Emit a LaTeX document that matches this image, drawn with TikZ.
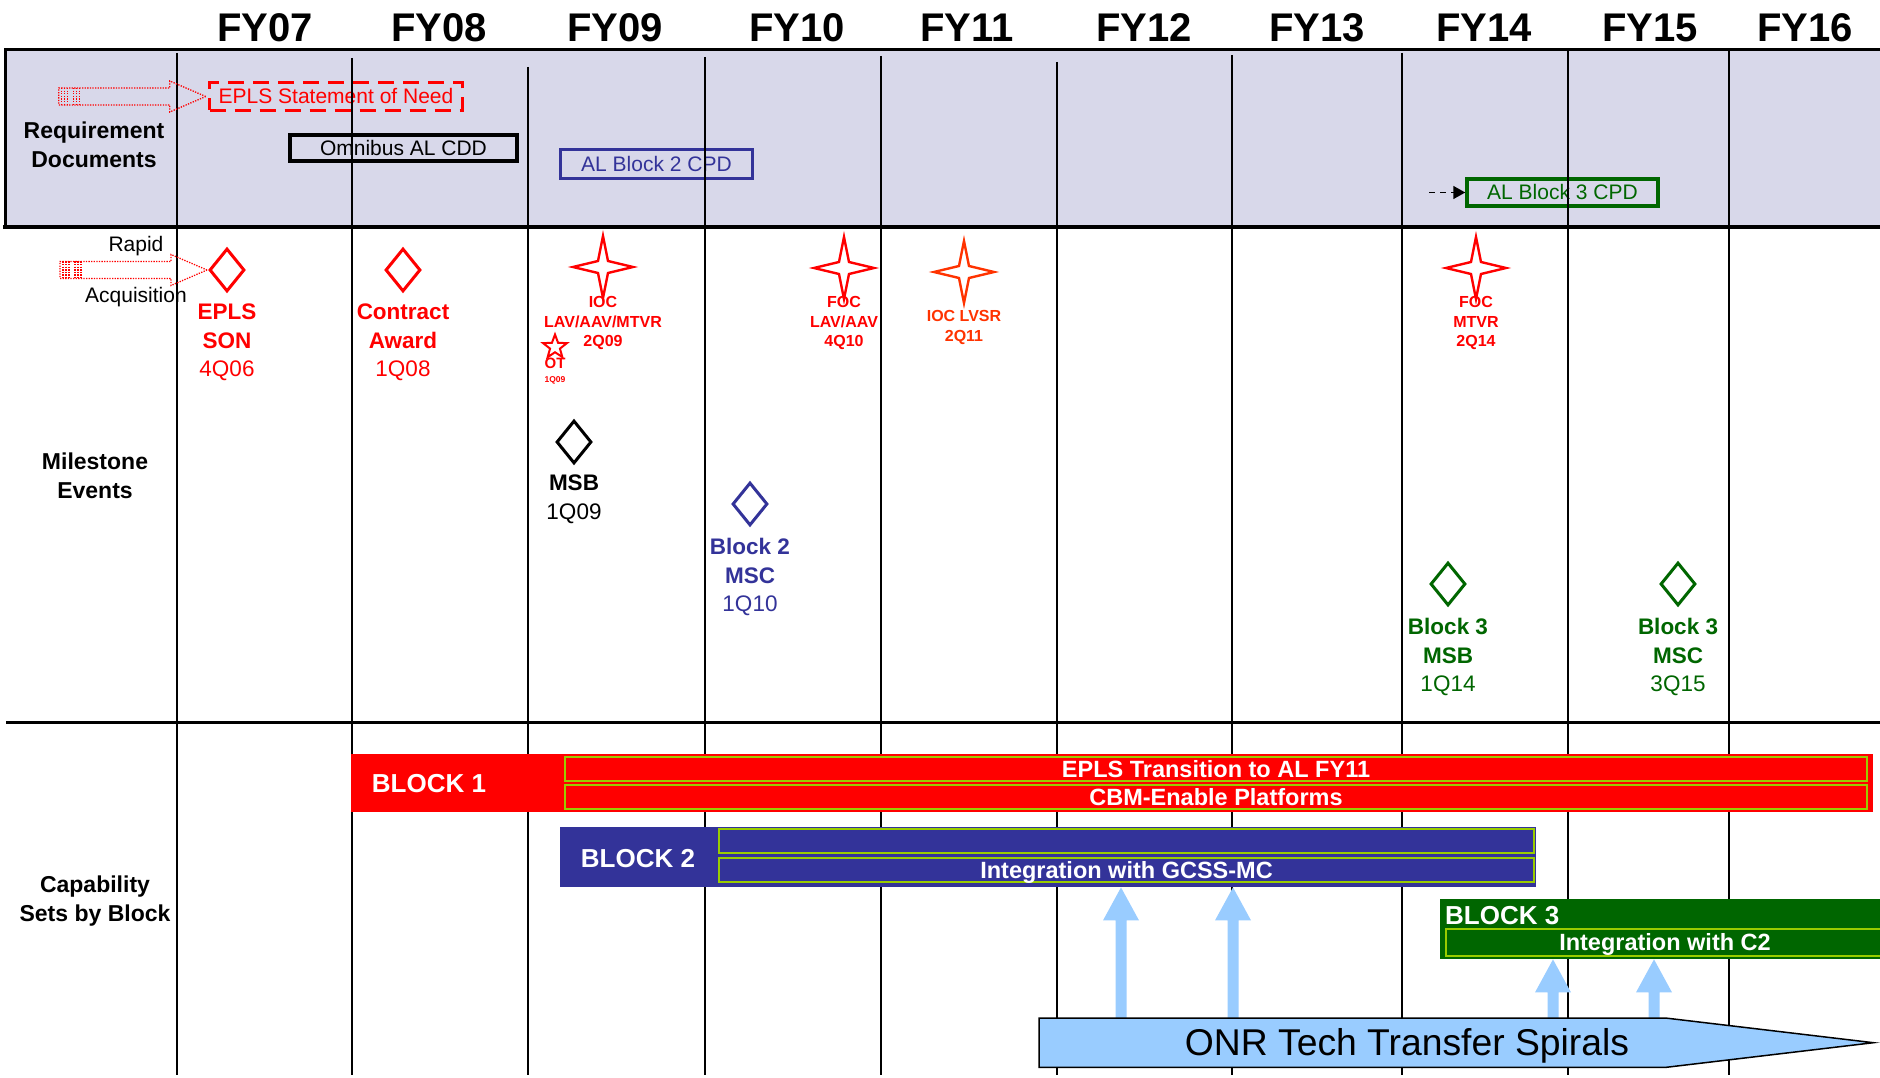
\documentclass[tikz,border=0pt]{standalone}
\usepackage{fontspec}
\setmainfont{Liberation Sans}
\usetikzlibrary{arrows.meta,calc,shapes.geometric}

\definecolor{reqfill}{RGB}{216,216,234}
\definecolor{msred}{RGB}{255,0,0}
\definecolor{lvsrred}{RGB}{255,51,0}
\definecolor{blocktwo}{RGB}{51,51,153}
\definecolor{blockthree}{RGB}{0,102,0}
\definecolor{spiralblue}{RGB}{153,204,255}
\definecolor{subedge}{RGB}{153,204,0}

\newcommand\setfs[2]{\fontsize{#1}{#2}\selectfont}

% four-point milestone star around a named centre
\newcommand\fourstar[3]{% name, centre, colour
  \coordinate (#1) at #2;
  \draw[#3, line width=2.4pt, fill=white, line join=miter]
    (#1) ++(0,-31) -- ++(5,25) -- ++(25,6) -- ++(-25,6) -- ++(-5,25)
    -- ++(-5,-25) -- ++(-25,-6) -- ++(25,-6) -- cycle;}

% dotted outline block arrow ending at a named tip
\newcommand\rapidarrow[1]{%
  \draw[msred, line width=1.3pt, dash pattern=on 1.3pt off 1.3pt]
    (#1) -- ++(-36,-15.5) -- ++(0,7) -- ++(-111,0) -- ++(0,17) -- ++(111,0) -- ++(0,7) -- cycle;
  \foreach \dx in {-144,-141,-138,-132,-129,-126}
    \draw[msred, line width=1.3pt, dash pattern=on 1.3pt off 1.3pt] ($(#1)+(\dx,-8.5)$) -- ++(0,17);}

% light blue block arrow from a foot point up to a tip point
\newcommand\spiralarrow[2]{%
  \fill[spiralblue] ($(#1)+(-5.5,0)$) -- ($(#2)+(-5.5,33)$) -- ($(#2)+(-18,33)$)
    -- (#2) -- ($(#2)+(18,33)$) -- ($(#2)+(5.5,33)$) -- ($(#1)+(5.5,0)$) -- cycle;}

\begin{document}
\begin{tikzpicture}[x=1pt,y=-1pt,
  fyhead/.style={font=\setfs{40}{48}\bfseries, anchor=base, inner sep=0pt},
  rowlabel/.style={font=\setfs{23}{28.5}\bfseries, align=center, anchor=north, inner sep=0pt},
  docbox/.style={font=\setfs{21}{25}, inner sep=0pt, text height=15pt, text depth=0pt},
  gridline/.style={line width=2.8pt},
  msmark/.style={diamond, draw, line width=3pt, fill=white, minimum width=35pt, minimum height=43pt, inner sep=0pt},
  mslabel/.style={font=\setfs{22.5}{28.5}, align=center, anchor=north, inner sep=0pt},
  starlabel/.style={font=\setfs{16}{19.8}\bfseries, align=center, anchor=north, inner sep=0pt},
  sidenote/.style={font=\setfs{21}{25}, anchor=base, inner sep=0pt},
  barbody/.style={minimum height=60pt, inner sep=0pt, anchor=north west},
  bartitle/.style={font=\setfs{26}{30}\bfseries, text=white, inner sep=0pt},
  subbar/.style={draw=subedge, line width=1.8pt, inner sep=0pt, text=white,
    font=\setfs{23.5}{28}\bfseries, text height=16.8pt, text depth=0pt}
]
\useasboundingbox (0,0) rectangle (1880,1078);
\fill[white] (0,0) rectangle (1880,1078);

% fiscal year headings
\foreach \x/\yr in {265/07,439/08,615/09,797/10,967/11,1144/12,1317/13,1484/14,1650/15,1805/16}
  \node[fyhead] (fy\yr) at (\x,42) {FY\yr};

% requirement documents band
\fill[reqfill] (5,50) rectangle (1880,227);
\node[rowlabel] (reqlabel) at (94,122) {Requirement\\Documents};
\node[docbox, draw=msred, text=msred, line width=3.5pt, dash pattern=on 16pt off 9pt,
      minimum width=253pt, minimum height=28pt] (son) at (336,96.5) {EPLS Statement of Need};
\node[docbox, draw=black, line width=4pt, minimum width=227pt, minimum height=26pt] (cdd) at (403.5,148) {Omnibus AL CDD};
\node[docbox, draw=blocktwo, text=blocktwo, line width=3pt, minimum width=192pt, minimum height=29pt] (cpdtwo) at (656.5,164) {AL Block 2 CPD};
\node[docbox, draw=blockthree, text=blockthree, line width=3.5pt, minimum width=191pt, minimum height=27pt] (cpdthree) at (1562.5,192.5) {AL Block 3 CPD};
\coordinate (cpdlead) at (1429,192.5);
\draw[line width=1.5pt, dash pattern=on 6pt off 5pt, -{Triangle[length=12pt,width=13pt]}] (cpdlead) -- (cpdthree.west);

% year grid
\foreach \x/\t in {177/53,352/58,528/67,705/57,881/56,1057/62,1232/55,1402/53,1568/50,1729/50}
  \draw[gridline] (\x,\t) -- (\x,1075);

% band borders
\draw[line width=3pt] (1880,50) -- (5,50) -- (5,227);
\draw[line width=4.5pt] (3,227) -- (1880,227);
\draw[line width=3.5pt] (6,722.5) -- (1880,722.5);

% milestone events
\node[rowlabel] (mslabelrow) at (95,453) {Milestone\\Events};
\node[sidenote] (rapid) at (136,251.5) {Rapid};
\node[sidenote] (acq) at (136,302.5) {Acquisition};

\node[msmark, draw=msred] (eplsd) at (227,270) {};
\node[mslabel, text=msred] (eplsl) at (227,304) {\textbf{EPLS}\\\textbf{SON}\\4Q06};
\node[msmark, draw=msred] (contractd) at (403,270) {};
\node[mslabel, text=msred] (contractl) at (403,304) {\textbf{Contract}\\\textbf{Award}\\1Q08};
\node[msmark, draw=black] (msbd) at (574,442) {};
\node[mslabel, text=black] (msbl) at (574,475) {\textbf{MSB}\\1Q09};
\node[msmark, draw=blocktwo] (msctwod) at (750,504) {};
\node[mslabel, text=blocktwo] (msctwol) at (750,538) {\textbf{Block 2}\\\textbf{MSC}\\1Q10};
\node[msmark, draw=blockthree] (msbthreed) at (1448,584) {};
\node[mslabel, text=blockthree] (msbthreel) at (1448,618) {\textbf{Block 3}\\\textbf{MSB}\\1Q14};
\node[msmark, draw=blockthree] (mscthreed) at (1678,584) {};
\node[mslabel, text=blockthree] (mscthreel) at (1678,618) {\textbf{Block 3}\\\textbf{MSC}\\3Q15};

\coordinate (sontip) at ([xshift=-2pt]son.west);
\coordinate (eplstip) at ([xshift=-1pt]eplsd.west);
\rapidarrow{sontip}
\rapidarrow{eplstip}

\fourstar{iocstar}{(603,267)}{msred}
\node[starlabel, text=msred] (iocl) at (603,296) {IOC\\LAV/AAV/MTVR\\2Q09};
\fourstar{focstar}{(844,268)}{msred}
\node[starlabel, text=msred] (focl) at (844,296) {FOC\\LAV/AAV\\4Q10};
\fourstar{lvsrstar}{(964,272)}{lvsrred}
\node[starlabel, text=lvsrred] (lvsrl) at (964,310) {IOC LVSR\\2Q11};
\fourstar{mtvrstar}{(1476,268)}{msred}
\node[starlabel, text=msred] (mtvrl) at (1476,296) {FOC\\MTVR\\2Q14};

\node[star, star points=5, star point ratio=2.4, draw=msred, line width=2pt, fill=white,
      minimum size=25pt, inner sep=0pt] (otstar) at (555,347) {};
\node[font=\setfs{15}{18}\bfseries, text=msred, anchor=base, inner sep=0pt] (otl) at (555,368.5) {OT};
\node[font=\setfs{8.5}{10}\bfseries, text=msred, anchor=base, inner sep=0pt] (otd) at (555,382) {1Q09};

% capability sets by block
\node[rowlabel] (caplabel) at (95,876) {Capability\\Sets by Block};

\node[barbody, fill=msred, minimum width=1522pt, minimum height=58pt] (bone) at (351,754) {};
\node[bartitle, anchor=base] (bonet) at (429,792) {BLOCK 1};
\node[subbar, minimum width=1302pt, minimum height=24pt] (bonea) at (1216,769) {EPLS Transition to AL FY11};
\node[subbar, minimum width=1302pt, minimum height=24pt] (boneb) at (1216,797) {CBM-Enable Platforms};

\node[barbody, fill=blocktwo, minimum width=976pt] (btwo) at (560,827) {};
\node[bartitle, anchor=base] (btwot) at (638,867) {BLOCK 2};
\node[subbar, minimum width=815pt, minimum height=24pt] (btwoa) at (1126.5,841) {};
\node[subbar, minimum width=815pt, minimum height=24pt] (btwob) at (1126.5,870) {Integration with GCSS-MC};

\node[barbody, fill=blockthree, minimum width=445pt] (bthree) at (1440,899) {};
\node[bartitle, anchor=base west] (bthreet) at (1445,924) {BLOCK 3};
\node[subbar, minimum width=438pt, minimum height=27pt] (bthreea) at (1665,942.5) {Integration with C2};

% technology transfer spirals feeding the blocks
\node[minimum width=626pt, minimum height=49pt, inner sep=0pt, anchor=north west] (onr) at (1039,1018) {};
\foreach \n/\x in {1/1121,2/1233,3/1553,4/1654}
  \coordinate (lane\n) at (\x,0);
\coordinate (foot1) at (lane1 |- onr.north);
\coordinate (foot2) at (lane2 |- onr.north);
\coordinate (foot3) at (lane3 |- onr.north);
\coordinate (foot4) at (lane4 |- onr.north);
\coordinate (tip1) at (lane1 |- btwo.south);
\coordinate (tip2) at (lane2 |- btwo.south);
\coordinate (tip3) at (lane3 |- bthree.south);
\coordinate (tip4) at (lane4 |- bthree.south);
\spiralarrow{foot1}{tip1}
\spiralarrow{foot2}{tip2}
\spiralarrow{foot3}{tip3}
\spiralarrow{foot4}{tip4}

\filldraw[fill=spiralblue, draw=black, line width=1.5pt, line join=miter]
  (onr.north west) -- (onr.north east) -- ([xshift=208pt]onr.east) -- (onr.south east) -- (onr.south west) -- cycle;
\node[font=\setfs{37.3}{41}, anchor=base, inner sep=0pt] (onrtext) at (1407,1055) {ONR Tech Transfer Spirals};
\end{tikzpicture}
\end{document}
